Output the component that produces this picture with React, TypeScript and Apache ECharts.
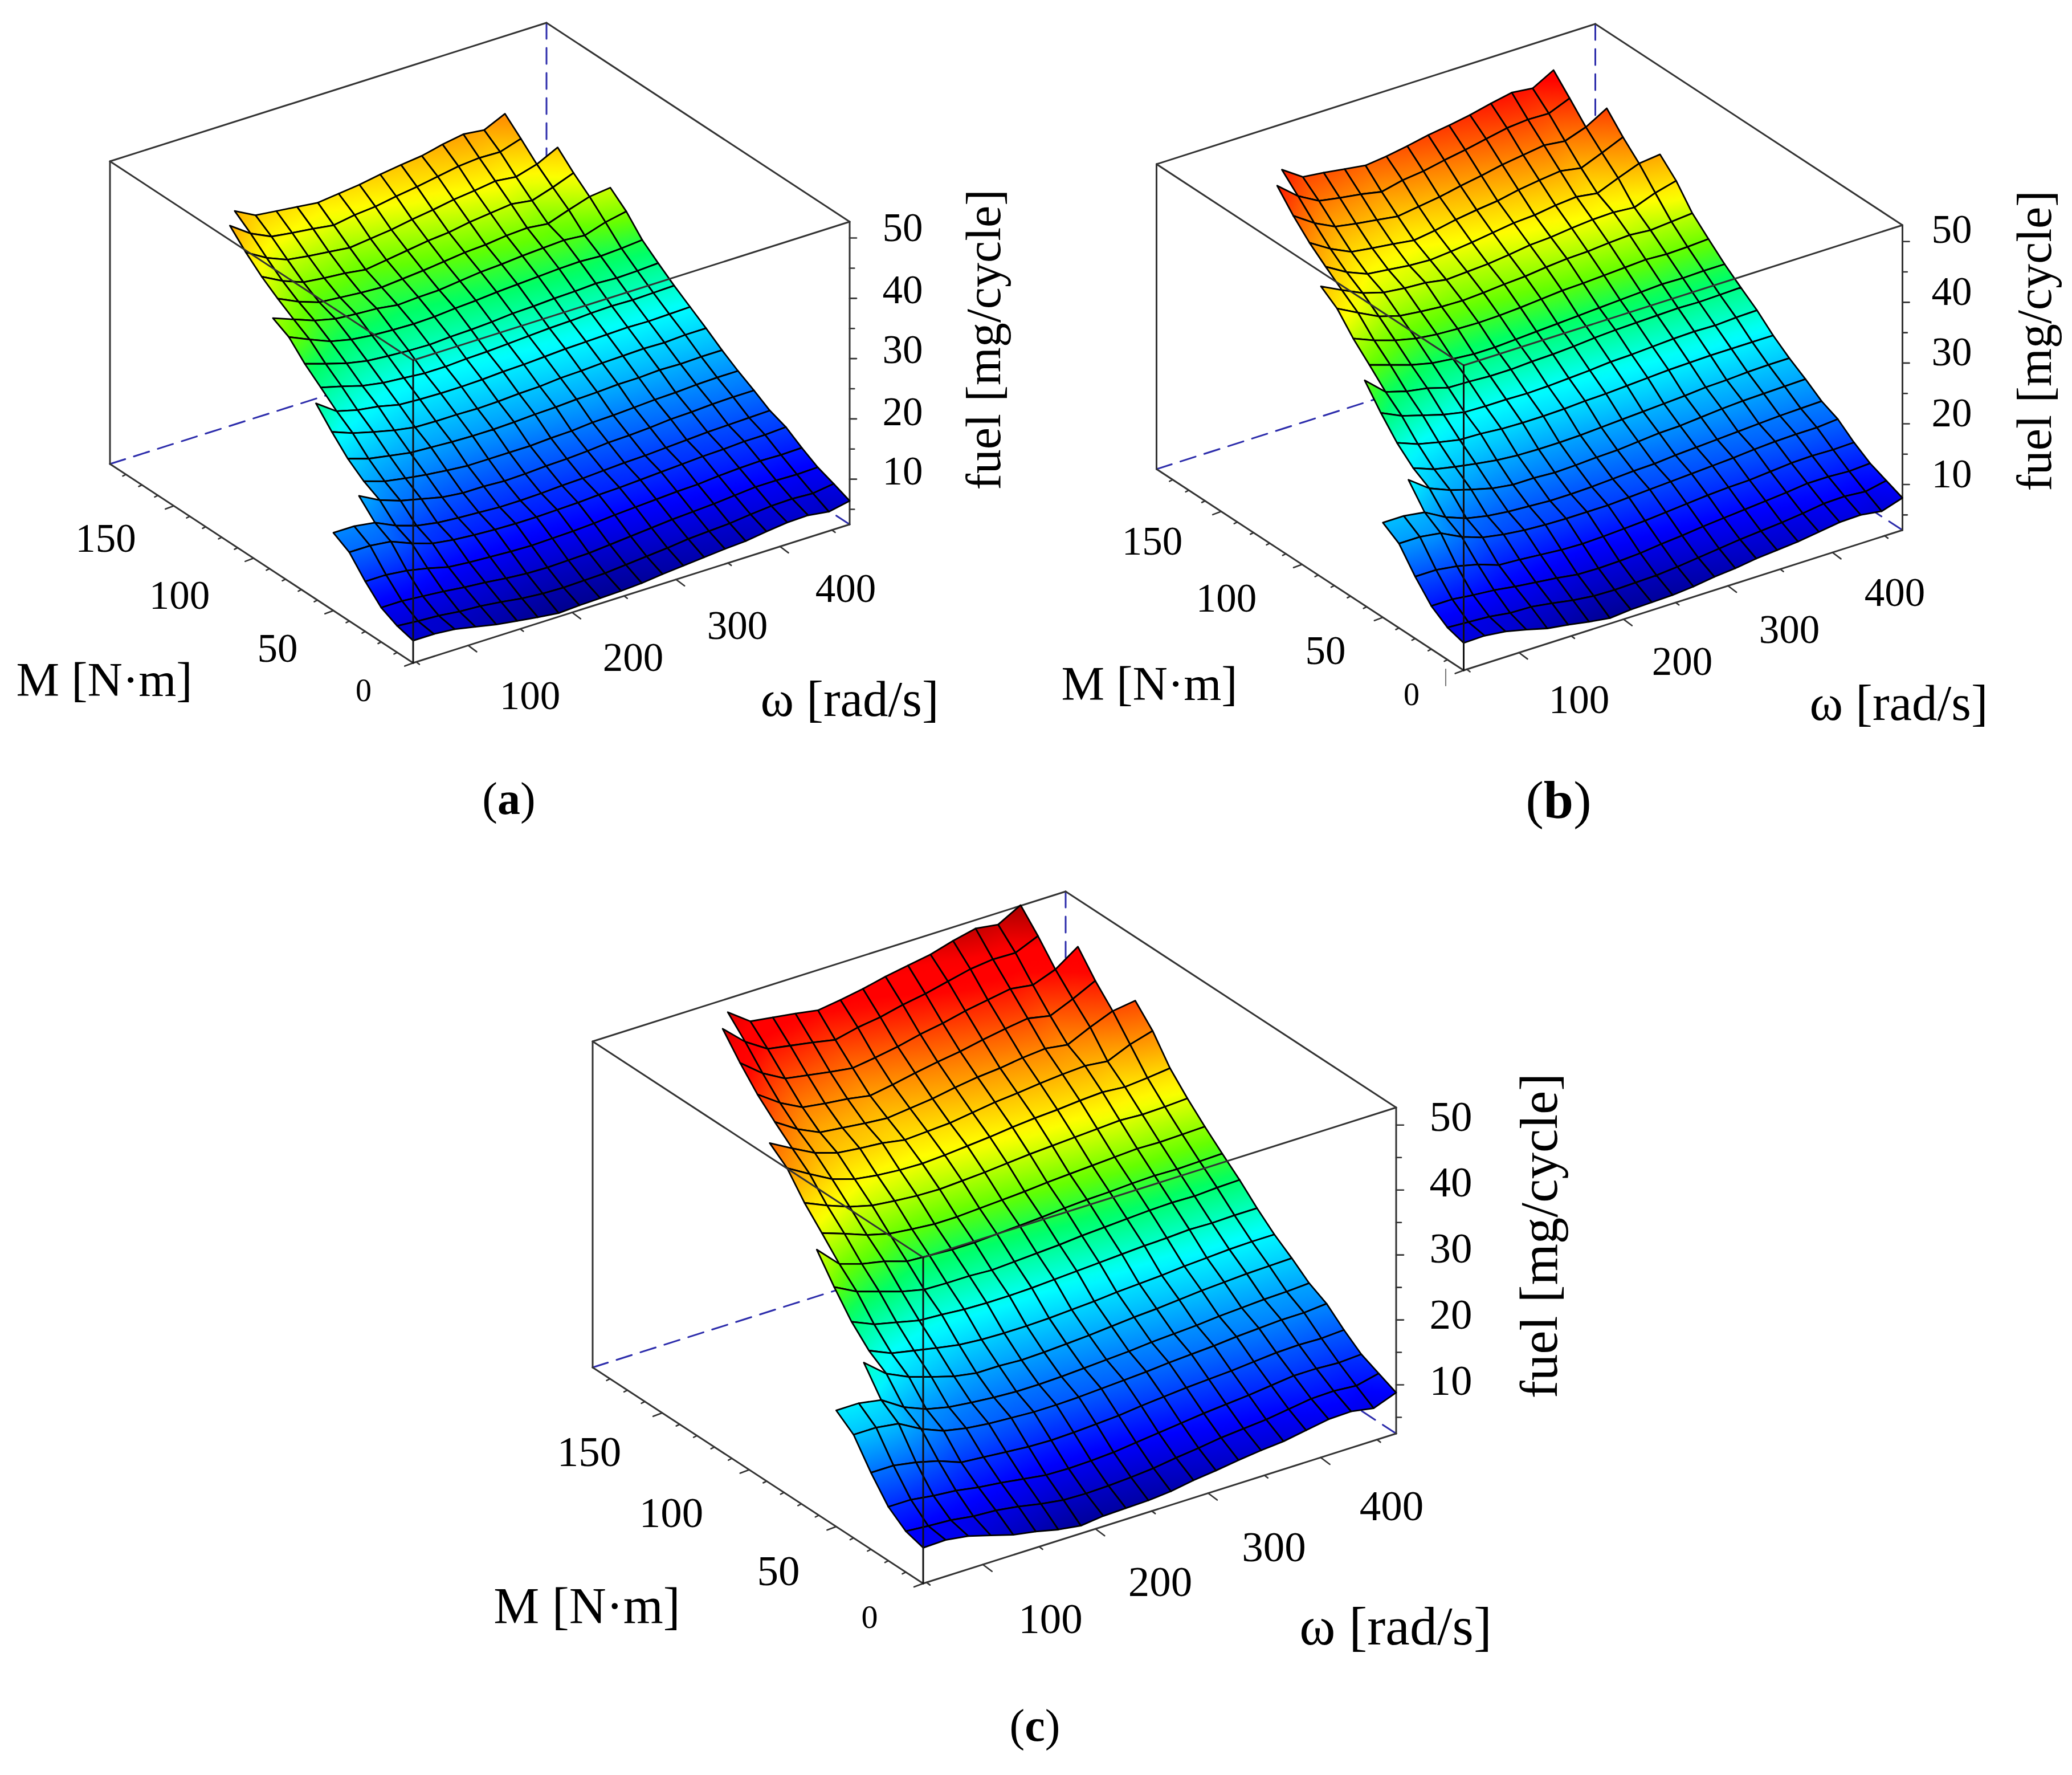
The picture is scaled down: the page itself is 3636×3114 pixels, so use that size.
import React, { useEffect, useRef } from "react";
import * as echarts from "echarts";

const omegaValues = [47, 67, 87, 107, 127, 147, 167, 187, 207, 227, 247, 267, 287, 307, 327, 347, 367, 387, 407, 427, 447, 467];
const torqueValues = [0, 10, 20, 30, 40, 50, 60, 70, 80, 90, 100, 110, 120, 130, 140, 150, 160, 170, 180, 190];
const rowStartColumn = [0, 0, 0, 0, 0, 0, 2, 3, 3, 3, 3, 4, 4, 4, 4, 5, 5, 5, 5, 6];

const omegaMajor = [100, 200, 300, 400];
const omegaMinor = [50, 150, 250, 350, 450];
const torqueMajor = [50, 100, 150];
const torqueMinor = [10, 20, 30, 40, 60, 70, 80, 90, 110, 120, 130, 140, 160, 170, 180];
const fuelMajor = [10, 20, 30, 40, 50];
const fuelMinor = [5, 15, 25, 35, 45];

const fuelA = [
  [6.2,6.2,5.9,5.2,4.5,4.0,3.5,3.1,3.3,3.4,3.5,3.7,4.1,4.4,4.7,5.0,5.2,5.7,6.1,6.2,5.7,6.4],
  [6.9,6.6,6.4,6.0,5.8,5.4,4.9,4.6,4.5,4.6,4.7,5.0,5.3,5.6,6.0,6.2,6.4,6.8,7.1,7.2,7.0,7.5],
  [8.2,8.2,7.9,7.6,7.2,6.9,6.5,6.2,6.1,6.2,6.3,6.6,6.9,7.2,7.5,7.7,7.9,8.2,8.5,8.5,8.4,8.5],
  [10.8,10.8,10.4,9.7,8.8,8.5,8.3,8.1,8.0,8.1,8.2,8.4,8.7,8.9,9.1,9.3,9.4,9.7,9.9,10.0,9.9,10.0],
  [13.9,13.9,13.5,12.1,11.0,10.5,10.2,10.0,9.9,9.9,10.0,10.1,10.3,10.4,10.6,10.8,11.0,11.2,11.3,11.5,11.5,11.7],
  [15.4,15.4,14.9,13.3,12.2,11.6,11.3,11.1,10.9,10.9,11.0,11.2,11.3,11.5,11.7,11.8,12.0,12.2,12.4,12.5,12.6,12.7],
  [17.6,15.8,14.6,13.8,13.0,12.6,12.6,12.4,12.5,12.7,12.8,13.0,13.3,13.4,13.6,13.9,14.0,14.2,14.3,14.3],
  [17.2,16.1,15.5,15.0,14.6,14.3,14.3,14.3,14.3,14.5,14.6,14.9,15.0,15.2,15.4,15.5,15.7,15.8,15.8],
  [19.2,18.1,17.5,16.9,16.7,16.5,16.4,16.4,16.5,16.7,16.8,17.0,17.1,17.3,17.3,17.5,17.4,17.5,17.5],
  [21.9,20.6,19.7,18.9,18.3,18.2,18.2,18.1,18.2,18.4,18.5,18.8,18.9,19.1,19.2,19.3,19.2,19.4,19.4],
  [24.9,22.5,21.6,21.1,20.3,20.1,20.0,20.0,20.1,20.3,20.4,20.6,20.8,20.9,21.0,21.1,21.0,21.1,21.2],
  [24.7,23.8,22.8,22.2,21.9,21.6,21.6,21.8,21.9,22.1,22.3,22.5,22.6,22.8,22.9,22.8,22.9,23.0],
  [26.9,25.8,24.8,24.1,23.8,23.6,23.5,23.7,23.8,24.0,24.3,24.4,24.6,24.7,24.9,24.7,24.8,25.0],
  [29.6,28.1,26.7,25.9,25.5,25.3,25.2,25.3,25.6,25.8,26.1,26.3,26.5,26.7,26.8,26.6,26.8,27.1],
  [31.0,29.7,28.4,27.6,27.3,27.1,26.6,26.8,26.9,27.3,27.7,27.9,28.2,28.4,28.6,28.3,29.4,30.1],
  [31.4,29.8,28.6,28.3,28.0,27.8,28.1,28.4,28.8,29.2,29.4,29.8,30.0,29.6,30.8,31.9,32.3],
  [33.3,31.5,30.2,29.8,29.5,29.0,29.5,30.0,30.5,30.8,31.4,31.8,32.2,31.7,32.8,34.1],
  [35.6,33.6,32.2,31.7,31.3,30.9,31.3,31.7,32.3,32.8,33.4,33.8,34.3,33.9,34.9,36.6],
  [38.3,35.9,34.3,33.8,33.4,32.9,33.5,33.8,34.4,34.9,35.5,36.1,36.4,36.3,37.4],
  [37.9,36.1,35.7,35.3,34.9,35.3,35.7,36.3,36.8,37.2,38.0,38.6,38.2,39.8],
];

const fuelB = [
  [7.0,7.1,6.7,5.9,5.0,4.5,3.9,3.4,3.7,3.8,3.9,4.2,4.7,5.0,5.5,5.8,6.1,6.6,7.1,7.2,6.7,7.8],
  [7.8,7.6,7.4,6.9,6.8,6.3,5.7,5.3,5.2,5.3,5.4,5.7,6.1,6.5,6.9,7.2,7.5,7.9,8.4,8.5,8.2,8.9],
  [9.6,9.6,9.2,8.9,8.4,8.0,7.6,7.1,7.0,7.1,7.3,7.7,8.0,8.4,8.7,9.0,9.3,9.6,10.0,10.0,9.8,10.0],
  [12.7,12.7,12.2,11.4,10.2,10.0,9.7,9.4,9.3,9.4,9.6,9.8,10.1,10.4,10.7,10.9,11.0,11.3,11.6,11.7,11.6,11.7],
  [16.4,16.4,15.9,14.2,13.0,12.4,12.0,11.8,11.7,11.7,11.7,11.9,12.1,12.3,12.5,12.7,12.9,13.2,13.4,13.5,13.5,13.8],
  [18.1,18.1,17.6,15.7,14.4,13.7,13.3,13.1,12.9,12.9,13.0,13.2,13.4,13.5,13.8,14.0,14.2,14.4,14.6,14.8,14.9,15.0],
  [21.2,18.7,17.3,16.3,15.4,14.9,14.9,14.7,14.8,15.0,15.1,15.4,15.7,15.8,16.1,16.4,16.6,16.7,16.8,16.9],
  [20.3,19.0,18.3,17.7,17.2,16.9,16.8,16.8,16.9,17.1,17.3,17.5,17.7,17.9,18.2,18.3,18.5,18.6,18.6],
  [22.7,21.4,20.6,19.9,19.8,19.5,19.4,19.4,19.5,19.7,19.8,20.0,20.2,20.4,20.5,20.6,20.6,20.6,20.6],
  [25.9,24.3,23.3,22.3,21.6,21.5,21.5,21.4,21.5,21.7,21.9,22.2,22.3,22.5,22.7,22.8,22.7,22.9,23.0],
  [29.5,26.5,25.5,24.9,23.9,23.8,23.6,23.6,23.8,23.9,24.1,24.4,24.6,24.7,24.8,24.9,24.8,24.9,25.0],
  [29.2,28.1,27.0,26.2,25.8,25.5,25.5,25.7,25.9,26.1,26.3,26.5,26.7,26.9,27.1,27.0,27.1,27.1],
  [31.8,30.4,29.3,28.5,28.1,27.9,27.8,27.9,28.1,28.4,28.7,28.8,29.0,29.2,29.4,29.2,29.3,29.5],
  [35.0,33.2,31.5,30.5,30.1,29.8,29.7,29.9,30.2,30.4,30.8,31.1,31.2,31.5,31.7,31.4,31.7,32.0],
  [36.9,35.2,33.6,32.6,32.2,32.0,31.4,31.6,31.8,32.2,32.7,32.9,33.3,33.6,33.7,33.4,34.7,35.6],
  [37.3,35.3,33.9,33.5,33.1,32.9,33.2,33.6,34.1,34.6,34.8,35.3,35.6,35.1,36.5,37.8,38.2],
  [39.5,37.4,35.8,35.3,34.9,34.4,34.9,35.6,36.1,36.5,37.2,37.7,38.1,37.5,38.9,40.4],
  [42.2,39.9,38.2,37.6,37.1,36.6,37.1,37.6,38.3,38.9,39.6,40.1,40.6,40.2,41.4,43.4],
  [45.4,42.6,40.7,40.1,39.6,38.9,39.7,40.1,40.8,41.4,42.1,42.8,43.1,43.0,44.4],
  [45.2,42.9,42.5,42.0,41.5,41.9,42.5,43.2,43.7,44.3,45.1,45.8,45.4,47.3],
];

const fuelC = [
  [8.0,8.1,7.6,6.6,5.6,5.0,4.2,3.7,4.1,4.2,4.3,4.6,5.2,5.6,6.1,6.5,6.8,7.4,8.0,8.1,7.5,8.8],
  [8.8,8.5,8.3,7.8,7.6,7.1,6.4,5.9,5.8,5.9,6.1,6.4,6.9,7.3,7.8,8.1,8.4,8.9,9.4,9.5,9.2,10.0],
  [10.8,10.8,10.3,10.0,9.4,9.0,8.5,8.0,7.9,8.0,8.2,8.6,9.0,9.4,9.8,10.1,10.4,10.8,11.2,11.2,11.0,11.2],
  [14.3,14.3,13.7,12.8,11.5,11.2,10.9,10.6,10.5,10.6,10.8,11.0,11.4,11.7,12.0,12.2,12.4,12.7,13.0,13.1,13.0,13.2],
  [18.4,18.4,17.9,16.0,14.6,13.9,13.5,13.3,13.1,13.1,13.2,13.4,13.6,13.8,14.1,14.3,14.5,14.8,15.0,15.2,15.2,15.5],
  [20.4,20.4,19.8,17.6,16.2,15.4,15.0,14.7,14.5,14.5,14.6,14.8,15.0,15.2,15.5,15.7,15.9,16.2,16.4,16.6,16.7,16.9],
  [23.8,21.0,19.4,18.3,17.3,16.7,16.7,16.5,16.6,16.8,17.0,17.3,17.6,17.8,18.1,18.4,18.6,18.8,18.9,19.0],
  [22.8,21.3,20.6,19.9,19.3,19.0,18.9,18.9,19.0,19.2,19.4,19.7,19.9,20.1,20.4,20.6,20.8,20.9,20.9],
  [25.5,24.0,23.2,22.4,22.2,21.9,21.8,21.8,21.9,22.1,22.3,22.5,22.7,22.9,23.0,23.2,23.1,23.2,23.2],
  [29.1,27.3,26.2,25.1,24.3,24.2,24.2,24.0,24.2,24.4,24.6,24.9,25.1,25.3,25.5,25.6,25.5,25.7,25.8],
  [33.1,29.8,28.7,28.0,26.9,26.7,26.5,26.5,26.7,26.9,27.1,27.4,27.6,27.7,27.9,28.0,27.9,28.0,28.1],
  [32.8,31.6,30.3,29.4,29.0,28.7,28.7,28.9,29.1,29.3,29.6,29.8,30.0,30.2,30.4,30.3,30.4,30.5],
  [35.7,34.2,32.9,32.0,31.6,31.3,31.2,31.4,31.6,31.9,32.2,32.4,32.6,32.8,33.0,32.8,32.9,33.1],
  [39.3,37.3,35.4,34.3,33.8,33.5,33.4,33.6,33.9,34.2,34.6,34.9,35.1,35.4,35.6,35.3,35.6,36.0],
  [41.4,39.5,37.7,36.6,36.2,35.9,35.3,35.5,35.7,36.2,36.7,37.0,37.4,37.7,37.9,37.5,39.0,40.0],
  [41.8,39.6,38.0,37.6,37.2,36.9,37.3,37.7,38.3,38.8,39.1,39.6,39.9,39.4,41.0,42.4,42.9],
  [44.3,41.9,40.1,39.6,39.2,38.6,39.2,39.9,40.5,41.0,41.7,42.3,42.8,42.1,43.6,45.3],
  [47.4,44.7,42.8,42.2,41.6,41.1,41.6,42.2,43.0,43.6,44.4,45.0,45.6,45.1,46.4,48.8],
  [50.9,47.8,45.6,45.0,44.4,43.7,44.5,45.0,45.8,46.4,47.2,48.0,48.4,48.3,49.8],
  [50.6,48.1,47.6,47.1,46.5,47.0,47.6,48.4,49.0,49.6,50.6,51.4,50.9,52.8],
];

const OMEGA_MIN = 47, OMEGA_MAX = 467, TORQUE_MAX = 190, FUEL_MIN = 2.5, FUEL_MAX = 52.7;
const FONT = '"Liberation Serif", serif';
const DARK = "#333333";

type Panel = {
  id: string; fuel: number[][]; o: number[]; w: number[]; m: number[]; h: number;
  size: number; zeroSize: number; mSize: number; wSize: number; fSize: number; capSize: number;
  fuelX: number; fuelY: number[];
  omegaPos: number[][]; torquePos: number[][];
  mTitle: number[]; wTitle: number[]; fTitle: number[]; caption: number[];
  stray: number[][];
};

const panels: Panel[] = [
  { id: "a", fuel: fuelA, o: [725, 1163], w: [766, -243], m: [-532, -349], h: 531,
    size: 71, zeroSize: 56, mSize: 85, wSize: 89, fSize: 86, capSize: 80,
    fuelX: 1584, fuelY: [826, 721.5, 612.5, 508, 399],
    omegaPos: [[930, 1220], [1111, 1153], [1294, 1097], [1484, 1032]],
    torquePos: [[638, 1211], [487, 1137], [315, 1044], [185.5, 944]],
    mTitle: [183, 1192], wTitle: [1491, 1226], fTitle: [1726, 596], caption: [893, 1401], stray: [] },
  { id: "b", fuel: fuelB, o: [2568.5, 1176], w: [770, -246], m: [-539, -353], h: 535,
    size: 71, zeroSize: 56, mSize: 85, wSize: 89, fSize: 86, capSize: 94,
    fuelX: 3425, fuelY: [830.5, 724, 617, 510.5, 401.5],
    omegaPos: [[2771, 1227], [2952, 1160], [3140, 1104], [3325, 1039]],
    torquePos: [[2477, 1218], [2326, 1141], [2152, 1048.5], [2022, 949]],
    mTitle: [2017, 1199], wTitle: [3332, 1233], fTitle: [3570, 598], caption: [2735, 1403],
    stray: [[2537, 1174, 2537, 1203]] },
  { id: "c", fuel: fuelC, o: [1620, 2778], w: [830, -263], m: [-580, -379], h: 572,
    size: 75, zeroSize: 58, mSize: 90, wSize: 96, fSize: 93, capSize: 80,
    fuelX: 2546, fuelY: [2421, 2305, 2189.5, 2073.5, 1958],
    omegaPos: [[1843.6, 2839], [2036, 2774], [2235.5, 2713.6], [2442, 2641.7]],
    torquePos: [[1526, 2836], [1366, 2755], [1178, 2653], [1034, 2546.6]],
    mTitle: [1030, 2817], wTitle: [2449, 2852], fTitle: [2700, 2168], caption: [1816, 3027], stray: [] },
];

const clamp = (v: number) => Math.max(0, Math.min(1, v));
function rainbow(fuel: number) {
  const f = clamp((fuel - FUEL_MIN) / (FUEL_MAX - FUEL_MIN));
  const b = f < 0.125 ? 0.5 + (f / 0.125) * 0.5 : f < 0.375 ? 1 : clamp(1 - (f - 0.375) / 0.155);
  const g = f < 0.125 ? 0 : f < 0.375 ? (f - 0.125) / 0.25 : f < 0.625 ? 1 : clamp(1 - (f - 0.625) / 0.25);
  const r = f < 0.47 ? 0 : f < 0.625 ? (f - 0.47) / 0.155 : f < 0.92 ? 1 : 1 - ((f - 0.92) / 0.08) * 0.33;
  return `rgb(${Math.round(r * 255)},${Math.round(g * 255)},${Math.round(b * 255)})`;
}

function project(p: Panel, omega: number, torque: number, fuel: number) {
  const a = (omega - OMEGA_MIN) / (OMEGA_MAX - OMEGA_MIN);
  const b = torque / TORQUE_MAX;
  const h = (fuel - FUEL_MIN) / (FUEL_MAX - FUEL_MIN);
  return [p.o[0] + a * p.w[0] + b * p.m[0], p.o[1] + a * p.w[1] + b * p.m[1] - h * p.h];
}

function surfaceFill(pts: number[][], fs: number[]) {
  const ux = (pts[1][0] - pts[0][0] + pts[2][0] - pts[3][0]) / 2;
  const uy = (pts[1][1] - pts[0][1] + pts[2][1] - pts[3][1]) / 2;
  const vx = (pts[3][0] - pts[0][0] + pts[2][0] - pts[1][0]) / 2;
  const vy = (pts[3][1] - pts[0][1] + pts[2][1] - pts[1][1]) / 2;
  const du = (fs[1] - fs[0] + fs[2] - fs[3]) / 2;
  const dv = (fs[3] - fs[0] + fs[2] - fs[1]) / 2;
  const det = ux * vy - uy * vx;
  const fc = (fs[0] + fs[1] + fs[2] + fs[3]) / 4;
  if (Math.abs(det) < 1e-6) return rainbow(fc);
  const gx = (du * vy - dv * uy) / det;
  const gy = (dv * ux - du * vx) / det;
  const g2 = gx * gx + gy * gy;
  if (g2 < 1e-9) return rainbow(fc);
  const cx = (pts[0][0] + pts[1][0] + pts[2][0] + pts[3][0]) / 4;
  const cy = (pts[0][1] + pts[1][1] + pts[2][1] + pts[3][1]) / 4;
  const lo = Math.min(...fs), hi = Math.max(...fs);
  const stops = [0, 0.25, 0.5, 0.75, 1].map((t) => ({ offset: t, color: rainbow(lo + (hi - lo) * t) }));
  return new echarts.graphic.LinearGradient(
    cx + (gx / g2) * (lo - fc), cy + (gy / g2) * (lo - fc),
    cx + (gx / g2) * (hi - fc), cy + (gy / g2) * (hi - fc),
    stops, true
  );
}

function surfaceSeries(p: Panel) {
  const node = (r: number, c: number) => {
    const row = p.fuel[r];
    const i = c - rowStartColumn[r];
    return row && i >= 0 && i < row.length ? row[i] : null;
  };
  const data: number[][] = [];
  for (let r = torqueValues.length - 2; r >= 0; r--) {
    for (let c = omegaValues.length - 2; c >= 0; c--) {
      const f = [node(r, c), node(r, c + 1), node(r + 1, c + 1), node(r + 1, c)];
      if (f.some((v) => v === null)) continue;
      data.push([omegaValues[c], omegaValues[c + 1], torqueValues[r], torqueValues[r + 1], ...(f as number[])]);
    }
  }
  return {
    type: "custom", z: 2, silent: true, data,
    dimensions: ["w0", "w1", "m0", "m1", "f0", "f1", "f2", "f3"],
    encode: { x: 0, y: 2 },
    renderItem: (_: any, api: any) => {
      const w0 = api.value(0), w1 = api.value(1), m0 = api.value(2), m1 = api.value(3);
      const fs = [api.value(4), api.value(5), api.value(6), api.value(7)];
      const pts = [
        project(p, w0, m0, fs[0]), project(p, w1, m0, fs[1]),
        project(p, w1, m1, fs[2]), project(p, w0, m1, fs[3]),
      ].map((q) => api.coord(q));
      return {
        type: "polygon", shape: { points: pts },
        style: { fill: surfaceFill(pts, fs), stroke: "#000", lineWidth: 2.8, lineJoin: "round" },
      };
    },
  };
}

type Seg = { a: number[]; b: number[]; color: string; width: number; dash?: number[] };

function lineSeries(z: number, segs: Seg[]) {
  return {
    type: "custom", z, silent: true,
    data: segs.map((_, i) => [i, 0]),
    renderItem: (params: any, api: any) => {
      const s = segs[params.dataIndex];
      const A = api.coord(s.a), B = api.coord(s.b);
      return {
        type: "line", shape: { x1: A[0], y1: A[1], x2: B[0], y2: B[1] },
        style: { stroke: s.color, lineWidth: s.width, lineDash: s.dash, lineCap: "round" },
      };
    },
  };
}

function frameSegments(p: Panel) {
  const P = (w: number, m: number, f: number) => project(p, w, m, f);
  const w0 = OMEGA_MIN, w1 = OMEGA_MAX, m0 = 0, m1 = TORQUE_MAX, f0 = FUEL_MIN, f1 = FUEL_MAX;
  const solid = (a: number[], b: number[]): Seg => ({ a, b, color: DARK, width: 3 });
  const dashed = (a: number[], b: number[]): Seg => ({ a, b, color: "#2c2cab", width: 3, dash: [28, 16] });
  const back: Seg[] = [
    dashed(P(w1, m1, f1), P(w1, m1, f0)),
    dashed(P(w0, m1, f0), P(w1, m1, f0)),
    dashed(P(w1, m0, f0), P(w1, m1, f0)),
    solid(P(w0, m1, f1), P(w1, m1, f1)),
    solid(P(w1, m1, f1), P(w1, m0, f1)),
    solid(P(w0, m1, f1), P(w0, m1, f0)),
    solid(P(w1, m0, f1), P(w1, m0, f0)),
    solid(P(w0, m1, f0), P(w0, m0, f0)),
    solid(P(w0, m0, f0), P(w1, m0, f0)),
  ];
  const front: Seg[] = [
    solid(P(w0, m1, f1), P(w0, m0, f1)),
    solid(P(w0, m0, f1), P(w1, m0, f1)),
    { ...solid(P(w0, m0, f1), P(w0, m0, f0)), color: "#111" },
  ];
  const tick = (q: number[], dx: number, dy: number): Seg => ({
    a: q, b: [q[0] + dx, q[1] + dy], color: DARK, width: 2.6,
  });
  const k = p.w[0] / 830;
  omegaMajor.forEach((v) => back.push(tick(P(v, m0, f0), 16 * k, 12 * k)));
  omegaMinor.forEach((v) => back.push(tick(P(v, m0, f0), 6 * k, 4.5 * k)));
  [0, ...torqueMajor].forEach((v) => back.push(tick(P(w0, v, f0), -16 * k, 6 * k)));
  torqueMinor.forEach((v) => back.push(tick(P(w0, v, f0), -6 * k, 3 * k)));
  fuelMajor.forEach((v) => back.push(tick(P(w1, m0, v), 13 * k, 0)));
  fuelMinor.forEach((v) => back.push(tick(P(w1, m0, v), 9 * k, 0)));
  p.stray.forEach((s) => back.push({ a: [s[0], s[1]], b: [s[2], s[3]], color: "#777", width: 2 }));
  return { back, front };
}

type Label = { text: string; x: number; y: number; size: number; rotate?: number; rich?: any };

function labelSeries(p: Panel) {
  const labels: Label[] = [];
  fuelMajor.forEach((v, i) => labels.push({ text: String(v), x: p.fuelX, y: p.fuelY[i], size: p.size }));
  omegaMajor.forEach((v, i) => labels.push({ text: String(v), x: p.omegaPos[i][0], y: p.omegaPos[i][1], size: p.size }));
  [0, ...torqueMajor].forEach((v, i) =>
    labels.push({ text: String(v), x: p.torquePos[i][0], y: p.torquePos[i][1], size: i === 0 ? p.zeroSize : p.size }));
  labels.push({ text: "M [N·m]", x: p.mTitle[0], y: p.mTitle[1], size: p.mSize });
  labels.push({ text: "ω [rad/s]", x: p.wTitle[0], y: p.wTitle[1], size: p.wSize });
  labels.push({ text: "fuel [mg/cycle]", x: p.fTitle[0], y: p.fTitle[1], size: p.fSize, rotate: Math.PI / 2 });
  labels.push({
    text: `{p|(}{b|${p.id}}{p|)}`, x: p.caption[0], y: p.caption[1], size: p.capSize,
    rich: {
      p: { fontFamily: FONT, fontSize: p.capSize, fill: "#000", color: "#000" },
      b: { fontFamily: FONT, fontSize: p.capSize, fontWeight: "bold", fill: "#000", color: "#000" },
    },
  });
  return {
    type: "custom", z: 4, silent: true,
    data: labels.map((_, i) => [i, 0]),
    renderItem: (params: any, api: any) => {
      const l = labels[params.dataIndex];
      const q = api.coord([l.x, l.y]);
      return {
        type: "text", x: q[0], y: q[1], rotation: l.rotate || 0,
        style: {
          text: l.text, fontFamily: FONT, fontSize: l.size, fill: "#000",
          align: "center", verticalAlign: "middle", rich: l.rich,
        },
      };
    },
  };
}

export default function App() {
  const ref = useRef<HTMLDivElement>(null);
  useEffect(() => {
    if (!ref.current) return;
    const chart = echarts.init(ref.current, undefined, { renderer: "svg" });
    const series: any[] = [];
    panels.forEach((p) => {
      const { back, front } = frameSegments(p);
      series.push(lineSeries(1, back), surfaceSeries(p), lineSeries(3, front), labelSeries(p));
    });
    chart.setOption({
      animation: false,
      backgroundColor: "#fff",
      grid: { left: 0, right: 0, top: 0, bottom: 0 },
      xAxis: { type: "value", show: false, min: 0, max: 3636 },
      yAxis: { type: "value", show: false, min: 0, max: 3114, inverse: true },
      series,
    });
    return () => chart.dispose();
  }, []);
  return <div ref={ref} style={{ position: "absolute", left: 0, top: 0, width: 3636, height: 3114 }} />;
}
